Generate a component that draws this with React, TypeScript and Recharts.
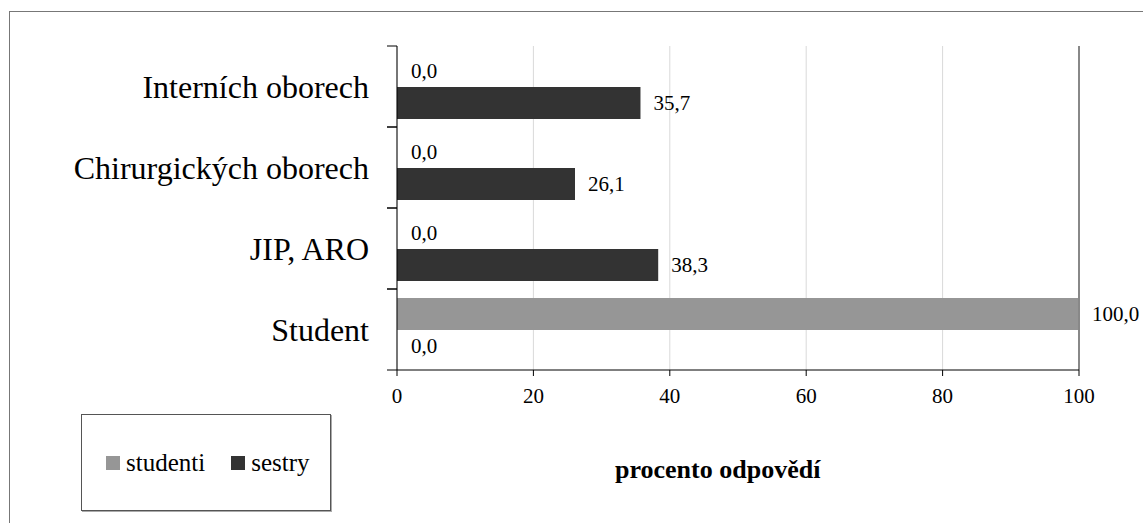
import React from 'react'
import { BarChart, Bar, XAxis, YAxis, CartesianGrid, ReferenceLine, LabelList, Cell } from 'recharts'

const categories = ['Interních oborech', 'Chirurgických oborech', 'JIP, ARO', 'Student']
const studenti = [0, 0, 0, 100]
const sestry = [35.7, 26.1, 38.3, 0]
const xTicks = [0, 20, 40, 60, 80, 100]

const FONT = '"Liberation Serif", "Times New Roman", serif'
const STUDENT_COLOR = '#969696'
const SESTRY_COLOR = '#333333'

const data = categories.map((name, i) => ({ name, studenti: studenti[i], sestry: sestry[i] }))

const fmt = (v: any) => Number(v).toFixed(1).replace('.', ',')
// zero bars get 1px so their "0,0" label is still drawn
const zeroMin = (v: any) => (Number(v) === 0 ? 1 : 0)

// plot is 324px high, 4 bands
const HALF_BAND = 324 / categories.length / 2

function CategoryTick(props: any) {
  const { x, y, payload } = props
  return (
    <g>
      <text x={x} y={y} dy="0.355em" textAnchor="end" fontSize={32} fill="#000" fontFamily={FONT}>
        {payload.value}
      </text>
      <line x1={x + 18} x2={x + 28} y1={y - HALF_BAND} y2={y - HALF_BAND} stroke="#000" />
      <line x1={x + 18} x2={x + 28} y1={y + HALF_BAND} y2={y + HALF_BAND} stroke="#000" />
    </g>
  )
}

function ValueLabel(props: any) {
  const { x, y, width, height, value } = props
  return (
    <text x={x + width + 13} y={y + height / 2} dy="0.355em" fontSize={21} fill="#000" fontFamily={FONT}>
      {fmt(value)}
    </text>
  )
}

export default function App() {
  return (
    <div style={{ position: 'absolute', left: 0, top: 0, width: 1143, height: 523, background: '#fff', overflow: 'hidden', fontFamily: FONT }}>
      <div style={{ position: 'absolute', left: 9, top: 11, width: 1200, height: 600, border: '1px solid #777' }} />
      <div style={{ position: 'absolute', left: 0, top: 0, fontFamily: FONT }}>
        <BarChart
          width={1143}
          height={523}
          data={data}
          layout="vertical"
          margin={{ top: 46, right: 64, left: 0, bottom: 123 }}
          barCategoryGap={9}
          barGap={0}
          style={{ fontFamily: FONT }}
        >
          <CartesianGrid horizontal={false} stroke="#d9d9d9" />
          <XAxis
            type="number"
            domain={[0, 100]}
            ticks={xTicks}
            height={30}
            axisLine={{ stroke: '#000' }}
            tickLine={{ stroke: '#000' }}
            tickSize={6}
            tickMargin={12}
            tick={{ fontSize: 21, fill: '#000', fontFamily: FONT }}
          />
          <XAxis
            xAxisId="top"
            orientation="top"
            type="number"
            domain={[0, 100]}
            height={0}
            tick={false}
            tickLine={false}
            axisLine={{ stroke: '#888', strokeWidth: 2 }}
          />
          <YAxis
            type="category"
            dataKey="name"
            width={397}
            axisLine={{ stroke: '#000' }}
            tickLine={false}
            tickSize={10}
            tickMargin={18}
            tick={<CategoryTick />}
            interval={0}
          />
          <ReferenceLine x={100} stroke="#888" strokeWidth={2} />
          <Bar dataKey="studenti" name="studenti" fill={STUDENT_COLOR} minPointSize={zeroMin} isAnimationActive={false}>
            {studenti.map((v, i) => (
              <Cell key={i} fill={STUDENT_COLOR} fillOpacity={v === 0 ? 0 : 1} />
            ))}
            <LabelList dataKey="studenti" content={<ValueLabel />} />
          </Bar>
          <Bar dataKey="sestry" name="sestry" fill={SESTRY_COLOR} minPointSize={zeroMin} isAnimationActive={false}>
            {sestry.map((v, i) => (
              <Cell key={i} fill={SESTRY_COLOR} fillOpacity={v === 0 ? 0 : 1} />
            ))}
            <LabelList dataKey="sestry" content={<ValueLabel />} />
          </Bar>
        </BarChart>
      </div>
      <div
        style={{
          position: 'absolute',
          left: 615,
          top: 457,
          fontSize: 26,
          lineHeight: '26px',
          fontWeight: 'bold',
          whiteSpace: 'nowrap',
          fontFamily: FONT,
        }}
      >
        procento odpovědí
      </div>
      <div
        style={{
          position: 'absolute',
          left: 81,
          top: 414,
          width: 250,
          height: 97,
          border: '1px solid #555',
          boxShadow: '1px 1px 0 #aaa',
          display: 'flex',
          alignItems: 'center',
          paddingLeft: 24,
          boxSizing: 'border-box',
          fontSize: 25,
          fontFamily: FONT,
        }}
      >
        <span style={{ display: 'inline-block', width: 14, height: 14, background: STUDENT_COLOR, marginRight: 6 }} />
        <span style={{ marginRight: 26, fontFamily: FONT }}>studenti</span>
        <span style={{ display: 'inline-block', width: 14, height: 14, background: SESTRY_COLOR, marginRight: 6 }} />
        <span style={{ fontFamily: FONT }}>sestry</span>
      </div>
    </div>
  )
}
